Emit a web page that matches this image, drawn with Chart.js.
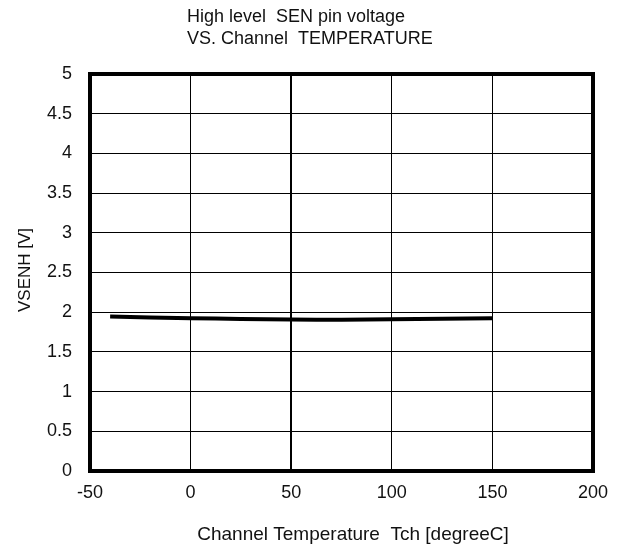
<!DOCTYPE html>
<html lang="en">
<head>
    <meta charset="UTF-8">
    <title>VSENH vs Tch</title>
    <style>
        body { margin: 0; background: #fff; }
        #wrap { width: 621px; height: 551px; }
    </style>
    <script src="https://cdn.jsdelivr.net/npm/chart.js@4.4.0/dist/chart.umd.min.js"></script>
</head>
<body>
    <div id="wrap">
        <canvas id="line-chart" width="621" height="551"></canvas>
    </div>
    <script>
        // data
        const temps = [-40, 0, 25, 50, 75, 100, 125, 150];
        const vsenh = [1.945, 1.925, 1.915, 1.908, 1.906, 1.91, 1.918, 1.925];
        const xTicks = [-50, 0, 50, 100, 150, 200];
        const yTicks = [0, 0.5, 1, 1.5, 2, 2.5, 3, 3.5, 4, 4.5, 5];
        const titleLines = ['High level  SEN pin voltage', 'VS. Channel  TEMPERATURE'];
        const xTitle = 'Channel Temperature  Tch [degreeC]';
        const yTitle = 'VSENH [V]';

        const font = 'Liberation Sans, Arial, sans-serif';

        // frame + texts
        const decorate = {
            id: 'decorate',
            afterDraw(chart) {
                const c = chart.ctx, a = chart.chartArea;
                c.save();
                c.strokeStyle = '#000';
                c.lineWidth = 4;
                c.strokeRect(a.left, a.top, a.right - a.left, a.bottom - a.top);

                c.fillStyle = '#111';
                c.textBaseline = 'middle';
                // title is left aligned in the original
                c.textAlign = 'left';
                c.font = '18px ' + font;
                c.fillText(titleLines[0], 187, 17);
                c.fillText(titleLines[1], 187, 39);

                c.textAlign = 'center';
                c.font = '19px ' + font;
                c.fillText(xTitle, 353, 535);

                c.font = '17px ' + font;
                c.translate(25, 270);
                c.rotate(-Math.PI / 2);
                c.fillText(yTitle, 0, 0);
                c.restore();
            }
        };

        new Chart(document.getElementById('line-chart').getContext('2d'), {
            type: 'line',
            data: {
                datasets: [{
                    data: temps.map((t, i) => ({ x: t, y: vsenh[i] })),
                    borderColor: '#000',
                    borderWidth: 4,
                    pointRadius: 0,
                    tension: 0.4,
                    fill: false
                }]
            },
            options: {
                responsive: false,
                animation: false,
                layout: { padding: { top: 74, right: 28, left: 0, bottom: 0 } },
                plugins: {
                    legend: { display: false },
                    tooltip: { enabled: false }
                },
                scales: {
                    x: {
                        type: 'linear',
                        min: -50,
                        max: 200,
                        afterFit(scale) { scale.height = 80; },
                        afterBuildTicks(scale) { scale.ticks = xTicks.map(v => ({ value: v })); },
                        grid: {
                            color: '#000',
                            lineWidth: ctx => (ctx.tick && ctx.tick.value === 50 ? 2 : 1),
                            drawTicks: false
                        },
                        border: { display: false },
                        ticks: {
                            color: '#111', padding: 11,
                            font: { family: font, size: 18 },
                            callback: v => String(v)
                        }
                    },
                    y: {
                        min: 0,
                        max: 5,
                        afterFit(scale) { scale.width = 90; },
                        afterBuildTicks(scale) { scale.ticks = yTicks.map(v => ({ value: v })); },
                        grid: { color: '#000', lineWidth: 1, drawTicks: false },
                        border: { display: false },
                        ticks: {
                            color: '#111', padding: 18,
                            font: { family: font, size: 18 },
                            callback: v => String(v)
                        }
                    }
                }
            },
            plugins: [decorate]
        });
    </script>
</body>
</html>
